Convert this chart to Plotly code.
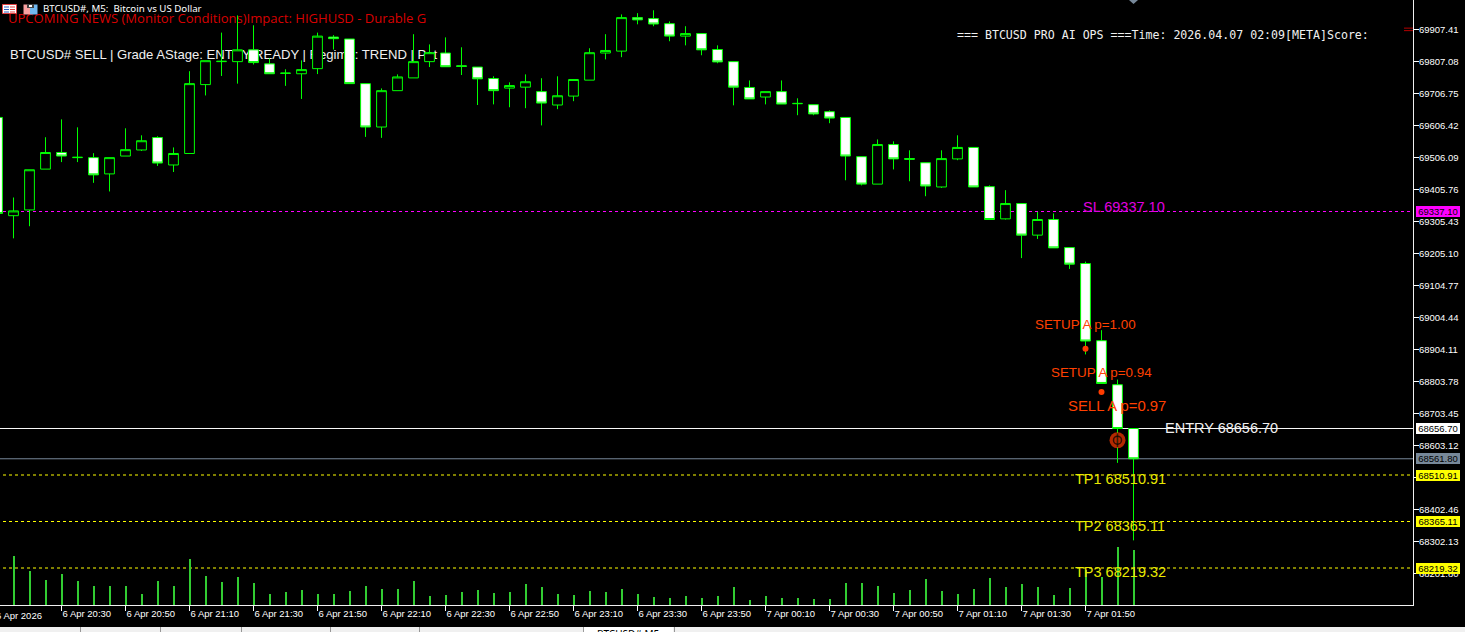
import pandas as pd
import plotly.graph_objects as go

# ---------- data ----------
first_bar = "2026-04-06 20:10"
opens = [69632,69324,69342,69470,69522,69506,69506,69455,69511,69530,69569,69483,69519,69735,69807,69807,69844,69800,69770,69769,69785,69884,69878,69738,69602,69716,69756,69807,69834,69794,69790,69754,69724,69727,69713,69671,69699,69749,69834,69840,69945,69942,69926,69887,69895,69845,69807,69726,69696,69713,69675,69672,69650,69632,69509,69423,69547,69503,69490,69414,69502,69538,69415,69314,69362,69263,69312,69224,69174,68932,68794,68656.7]
highs = [69632,69381,69468,69570,69626,69601,69520,69506,69598,69576,69573,69538,69777,69810,69898,69952,69921,69817,69783,69811,69898,69890,69878,69738,69723,69767,69893,69861,69883,69852,69790,69761,69742,69767,69755,69761,69751,69849,69893,69955,69959,69968,69933,69918,69895,69858,69807,69748,69713,69748,69692,69672,69654,69632,69509,69563,69557,69529,69490,69529,69576,69538,69419,69404,69362,69336,69331,69224,69180,68965,68810,68656.7]
lows = [69331,69253,69291,69470,69492,69492,69427,69400,69511,69527,69480,69461,69519,69701,69762,69738,69798,69769,69731,69690,69768,69845,69738,69571,69568,69716,69756,69790,69791,69765,69671,69673,69664,69661,69607,69658,69683,69749,69814,69821,69924,69918,69871,69858,69827,69802,69670,69690,69673,69674,69639,69639,69614,69435,69419,69423,69469,69432,69385,69411,69498,69414,69312,69312,69191,69251,69223,69157,68889,68798,68549,68306]
closes = [69331,69339,69468,69522,69511,69507,69452,69506,69531,69559,69489,69519,69738,69810,69808,69844,69804,69769,69771,69782,69887,69879,69738,69602,69716,69759,69807,69835,69791,69792,69753,69716,69732,69744,69677,69700,69751,69835,69842,69945,69938,69925,69887,69895,69844,69806,69727,69690,69713,69674,69676,69643,69630,69511,69423,69547,69502,69501,69417,69503,69538,69414,69312,69362,69263,69312,69223,69172,68931,68798,68656.7,68561.8]
volumes = [200,490,340,250,310,240,190,190,190,110,240,190,460,290,230,280,220,110,130,150,110,110,140,190,160,160,240,90,100,130,150,120,
           130,210,180,110,100,140,130,160,110,80,70,90,70,90,180,50,90,70,70,60,60,220,220,190,120,150,260,140,110,160,270,
           180,210,180,100,170,350,280,580,550]
price_ticks = [69907.41,69807.08,69706.75,69606.42,69506.09,69405.76,69305.43,69205.10,69104.77,69004.44,68904.11,68803.78,68703.45,68603.12,68502.79,68402.46,68302.13,68201.80]
time_ticks = ["2026-04-06 20:30","2026-04-06 20:50","2026-04-06 21:10","2026-04-06 21:30","2026-04-06 21:50","2026-04-06 22:10","2026-04-06 22:30","2026-04-06 22:50","2026-04-06 23:10","2026-04-06 23:30","2026-04-06 23:50","2026-04-07 00:10","2026-04-07 00:30","2026-04-07 00:50","2026-04-07 01:10","2026-04-07 01:30","2026-04-07 01:50"]
time_labels = ["6 Apr 20:30","6 Apr 20:50","6 Apr 21:10","6 Apr 21:30","6 Apr 21:50","6 Apr 22:10","6 Apr 22:30","6 Apr 22:50","6 Apr 23:10","6 Apr 23:30","6 Apr 23:50","7 Apr 00:10","7 Apr 00:30","7 Apr 00:50","7 Apr 01:10","7 Apr 01:30","7 Apr 01:50"]
SL, ENTRY, BID, TP1, TP2, TP3 = 69337.10, 68656.70, 68561.80, 68510.91, 68365.11, 68219.32
signal_times = ["2026-04-07 01:50", "2026-04-07 01:55"]
signal_prices = [68907, 68771]
sell_time, sell_price = "2026-04-07 02:00", 68620

times = pd.date_range(first_bar, periods=len(opens), freq="5min")

# ---------- helpers: page pixels -> paper coordinates ----------
W, H, PW, PH = 1465, 632, 1413, 605
def px(v): return v / PW
def py(v): return (PH - v) / PH

GREEN, VOL = "#00ff00", "#32cd32"
TICK_FONT = dict(family="Liberation Sans", size=9.5, color="white")

fig = go.Figure()
fig.add_trace(go.Candlestick(
    x=times, open=opens, high=highs, low=lows, close=closes,
    increasing=dict(line=dict(color=GREEN, width=1), fillcolor="black"),
    decreasing=dict(line=dict(color=GREEN, width=1), fillcolor="white"),
    whiskerwidth=0, showlegend=False))
fig.add_trace(go.Bar(x=times, y=volumes, yaxis="y2", width=37500,
                     marker=dict(color=VOL, line_width=0), showlegend=False))
fig.add_trace(go.Scatter(x=signal_times, y=signal_prices, mode="markers",
                         marker=dict(color="#ff3c00", size=6), showlegend=False))
fig.add_trace(go.Scatter(x=[sell_time]*3, y=[sell_price]*3, mode="markers", showlegend=False,
                         marker=dict(color=["#ff3c00", "black", "black"], size=[16, 8, 10],
                                     symbol=["circle", "circle-open", "line-ns-open"],
                                     line=dict(color="black", width=[0, 1.5, 1.5]))))

shapes = []
def hline(y, color, dash="solid", x0=0):
    shapes.append(dict(type="line", xref="paper", yref="y", x0=x0, x1=1, y0=y, y1=y, layer="below",
                       line=dict(color=color, width=1, dash=dash)))
hline(SL, "#ff00ff", "3px,3px", px(3))
hline(ENTRY, "#f8f8f8")
hline(BID, "#778899")
hline(TP1, "#ffff00", "3px,3px", px(3))
hline(TP2, "#ffff00", "3px,3px", px(3))
hline(TP3, "#ffff00", "3px,3px", px(3))

def under_text(text, x, y, family, size, color):
    shapes.append(dict(type="rect", xref="paper", yref="paper", x0=px(x), x1=px(x + 600), y0=py(y - 10), y1=py(y + 10),
                       layer="below", line=dict(width=0), fillcolor="rgba(0,0,0,0)",
                       label=dict(text=text, textposition="middle left", padding=0,
                                  font=dict(family=family, size=size, color=color))))
under_text("UPCOMING NEWS (Monitor Conditions)Impact: HIGHUSD - Durable G", 5, 18.5, "Open Sans", 13.05, "#d80000")
under_text("BTCUSD# SELL | Grade AStage: ENTRY READY | Regime: TREND | Pat", 7, 53.5, "Liberation Sans", 13.1, "#f0f0f0")

def box(x0, y0, x1, y1, fill, line=None, layer="above"):
    shapes.append(dict(type="rect", xref="paper", yref="paper", x0=px(x0), x1=px(x1), y0=py(y0), y1=py(y1), layer=layer,
                       fillcolor=fill, line=dict(width=1 if line else 0, color=line or fill)))
# window chrome: footer strip and tabs
box(0, 627, W, H, "#f0f0f0")
box(583, 627, 673, H, "white")
for d in [80, 160, 241, 330, 419, 583, 674]:
    box(d, 627, d + 0.7, H, "#707070")
# title icons
box(2.5, 4.5, 16.5, 13.5, "white", "#e04040")
box(4, 6.5, 9, 7.5, "#3060c0"); box(4, 9, 9, 10, "#3060c0"); box(4, 11.5, 9, 12.5, "#3060c0")
box(10, 6.5, 15, 7.5, "#e04040"); box(10, 9, 15, 10, "#e04040"); box(10, 11.5, 15, 12.5, "#e04040")
box(23.5, 4.5, 30, 14.5, "#f8a0a0"); box(30, 4.5, 37.5, 14.5, "#70b8f0")
box(27, 4, 34, 8, "#404040"); box(29, 5, 32, 7, "white")
# markers on the window edge
shapes.append(dict(type="path", xref="paper", yref="paper", layer="above", fillcolor="#778899", line_width=0,
                   path=f"M {px(1129)} {py(0)} L {px(1138)} {py(0)} L {px(1133.5)} {py(4)} Z"))
box(1404, 27.7, 1413, 28.5, "#e00000")
box(1404, 30.3, 1413, 31.1, "#e00000")

ann = []
def label(text, cx, cy, family="Liberation Sans", size=14.5, color="white", anchor="center"):
    ann.append(dict(text=text, xref="paper", yref="paper", x=px(cx), y=py(cy), xanchor=anchor, yanchor="middle",
                    showarrow=False, font=dict(family=family, size=size, color=color), borderpad=0, borderwidth=0))
label(f"SL {SL:.2f}", 1124, 207.5, color="#e000e0")
label(f"ENTRY {ENTRY:.2f}", 1221.5, 428, color="#f0f0f0")
label(f"TP1 {TP1:.2f}", 1120, 479, color="#e8e800")
label(f"TP2 {TP2:.2f}", 1120, 525.5, color="#e8e800")
label(f"TP3 {TP3:.2f}", 1120, 571.5, color="#e8e800")
label("SETUP A p=1.00", 1085, 324, size=13.4, color="#ff4000")
label("SETUP A p=0.94", 1101, 372, size=13.4, color="#ff4000")
label("SELL A p=0.97", 1117, 405.5, size=14.9, color="#ff4000")
label("=== BTCUSD PRO AI OPS ===Time: 2026.04.07 02:09[META]Score:", 957, 35, family="DejaVu Sans Mono", size=11.6,
      color="#f0f0f0", anchor="left")
label("BTCUSD#, M5:\u00a0\u00a0Bitcoin vs US Dollar", 43, 9, family="Noto Sans", size=9.7, anchor="left")
label("6 Apr 2026", -4, 615, family=TICK_FONT["family"], size=TICK_FONT["size"], anchor="left")
label("BTCUSD#,M5", 628, 634, family="Noto Sans", size=10, color="black")

for value, bg in [(SL, "#ff00ff"), (ENTRY, "white"), (BID, "#778899"), (TP1, "#ffff00"), (TP2, "#ffff00"), (TP3, "#ffff00")]:
    ann.append(dict(text=f"{value:.2f}", xref="paper", yref="y", x=px(1438), y=value, xanchor="center", yanchor="middle",
                    showarrow=False, width=44, height=11, bgcolor=bg, borderpad=0, borderwidth=0,
                    font=dict(family=TICK_FONT["family"], size=TICK_FONT["size"], color="black")))

fig.update_layout(
    width=W, height=H, margin=dict(l=0, r=W - PW, t=0, b=H - PH),
    paper_bgcolor="black", plot_bgcolor="black", showlegend=False, bargap=0, boxgap=0.39, boxgroupgap=0,
    hovermode=False, shapes=shapes, annotations=ann,
    xaxis=dict(type="date", range=["2026-04-06 20:10:46.875", "2026-04-07 03:32:20.625"], rangeslider=dict(visible=False),
               tickmode="array", tickvals=time_ticks, ticktext=time_labels, ticks="outside", ticklen=5, tickcolor="white",
               tickwidth=1, tickangle=0, ticklabelposition="outside right", tickfont=TICK_FONT, showgrid=False, zeroline=False,
               showline=True, linecolor="#f0f0f0", linewidth=1),
    yaxis=dict(range=[68103.34, 70000.24], side="right", tickmode="array", tickvals=price_ticks,
               ticktext=[f"{v:.2f}" for v in price_ticks], ticks="outside", ticklen=5, tickcolor="white", tickwidth=1,
               ticklabelstandoff=-2, tickfont=TICK_FONT, showgrid=False, zeroline=False, showline=True, linecolor="#f0f0f0", linewidth=1),
    yaxis2=dict(range=[0, 6050], overlaying="y", side="right", visible=False, showgrid=False, zeroline=False),
)
fig.write_html("out.html", config={"displayModeBar": False},
               post_script="document.body.style.margin='0';document.body.style.overflow='hidden';")
